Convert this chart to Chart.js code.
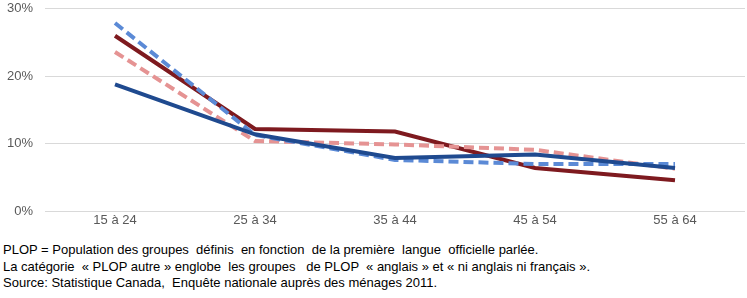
<!DOCTYPE html>
<html>
<head>
<meta charset="utf-8">
<script src="https://cdn.jsdelivr.net/npm/chart.js@4"></script>
<style>
  body { margin: 0; background: #fff; overflow: hidden; }
  #wrap { position: relative; width: 747px; height: 242px; margin-top: -11px; }
  #notes {
    position: absolute; left: 3px; top: 242px;
    font-family: "Liberation Sans Narrow", "Arial Narrow", "Liberation Sans", Arial, sans-serif;
    font-size: 13px; line-height: 16.5px; color: #000; white-space: pre;
  }
</style>
</head>
<body>
<div id="wrap"><canvas id="chart"></canvas></div>
<div id="notes">PLOP = Population des groupes  définis  en fonction  de la première  langue  officielle parlée.
La catégorie  « PLOP autre » englobe  les groupes   de PLOP  « anglais » et « ni anglais ni français ».
Source: Statistique Canada,  Enquête nationale auprès des ménages 2011.</div>
<script>
// age groups
const ageGroups = ['15 à 24', '25 à 34', '35 à 44', '45 à 54', '55 à 64'];

// shares by group (fractions)
const plopFrancaisH = [0.188, 0.114, 0.079, 0.084, 0.064];
const plopFrancaisF = [0.279, 0.113, 0.076, 0.070, 0.070];
const plopAutreF = [0.236, 0.104, 0.099, 0.091, 0.063];
const plopAutreH = [0.260, 0.122, 0.118, 0.064, 0.046];

const yTicks = [0, 0.1, 0.2, 0.3];

const tickColor = '#595959';

const ctx = document.getElementById('chart');
new Chart(ctx, {
  type: 'line',
  data: {
    labels: ageGroups,
    datasets: [
      {
        label: 'PLOP français - hommes',
        data: plopFrancaisH,
        borderColor: '#1f4a8f',
        borderWidth: 4,
        pointRadius: 0,
        tension: 0
      },
      {
        label: 'PLOP français - femmes',
        data: plopFrancaisF,
        borderColor: '#5b8ad6',
        borderWidth: 4,
        borderDash: [10, 5],
        pointRadius: 0,
        tension: 0
      },
      {
        label: 'PLOP autre - femmes',
        data: plopAutreF,
        borderColor: '#e59393',
        borderWidth: 4,
        borderDash: [10, 5],
        pointRadius: 0,
        tension: 0
      },
      {
        label: 'PLOP autre - hommes',
        data: plopAutreH,
        borderColor: '#7e1a1f',
        borderWidth: 4,
        pointRadius: 0,
        tension: 0
      }
    ]
  },
  options: {
    responsive: true,
    maintainAspectRatio: false,
    animation: false,
    layout: {
      padding: { top: 0, right: 2, left: 0, bottom: 0 }
    },
    plugins: {
      legend: { display: false },
      tooltip: { enabled: false }
    },
    scales: {
      x: {
        offset: true,
        grid: { display: false, drawTicks: false },
        border: { display: false },
        ticks: {
          color: tickColor,
          font: { family: '"Liberation Sans", Arial, sans-serif', size: 13 },
          padding: 1,
          maxRotation: 0
        }
      },
      y: {
        min: 0,
        max: 0.3,
        afterBuildTicks: (scale) => {
          scale.ticks = yTicks.map(v => ({ value: v }));
        },
        afterFit: (scale) => { scale.width = 45; },
        grid: { color: '#d9d9d9', lineWidth: 1, drawTicks: false },
        border: { display: false },
        ticks: {
          color: tickColor,
          font: { family: '"Liberation Sans", Arial, sans-serif', size: 13 },
          padding: 12,
          callback: (v) => Math.round(v * 100) + '%'
        }
      }
    }
  }
});
</script>
</body>
</html>
